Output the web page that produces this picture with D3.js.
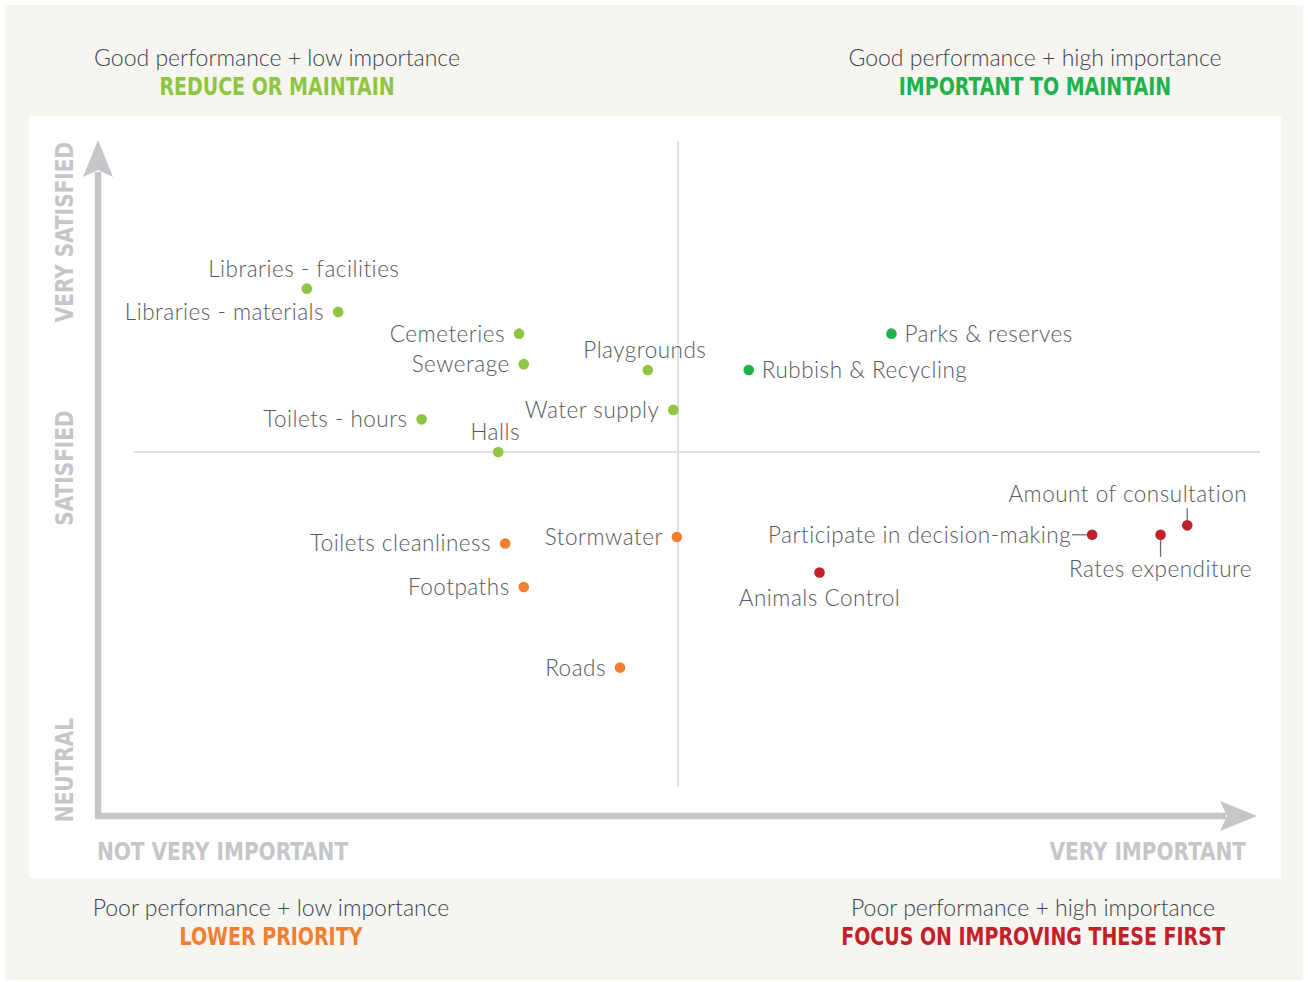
<!DOCTYPE html>
<html>
<head>
<meta charset="utf-8">
<script src="https://cdn.jsdelivr.net/npm/d3@7"></script>
<style>
  html, body { margin: 0; padding: 0; background: #ffffff; }
  svg { display: block; }
</style>
</head>
<body>
<svg id="chart" width="1308" height="982"></svg>
<script>
// Council services: importance to residents vs. satisfaction with performance (0–100 index)
const services = [
  "Libraries - facilities", "Libraries - materials", "Cemeteries", "Sewerage",
  "Playgrounds", "Toilets - hours", "Halls", "Water supply",
  "Parks & reserves", "Rubbish & Recycling",
  "Toilets cleanliness", "Stormwater", "Footpaths", "Roads",
  "Animals Control", "Participate in decision-making", "Rates expenditure", "Amount of consultation"
];
const importance = [
  18.0, 20.7, 36.3, 36.7,
  47.4, 27.9, 34.5, 49.6,
  68.4, 56.1,
  35.1, 49.9, 36.7, 45.0,
  62.2, 85.7, 91.6, 93.9
];
const satisfaction = [
  72.5, 69.3, 66.3, 62.1,
  61.3, 54.5, 50.0, 55.8,
  66.3, 61.3,
  37.4, 38.3, 31.4, 20.3,
  33.4, 38.6, 38.6, 39.9
];
const quadrant = [
  "reduce", "reduce", "reduce", "reduce",
  "reduce", "reduce", "reduce", "reduce",
  "maintain", "maintain",
  "lower", "lower", "lower", "lower",
  "focus", "focus", "focus", "focus"
];
const labelPlacement = [
  "above", "left", "left", "left",
  "above", "left", "above", "left",
  "right", "right",
  "left", "left", "left", "left",
  "below", "left-leader", "below-leader", "above-leader"
];
const midpoints = [50, 50]; // importance, satisfaction dividing lines

const quadrantKeys = ["reduce", "maintain", "lower", "focus"];
const quadrantTitles = [
  "Good performance + low importance", "Good performance + high importance",
  "Poor performance + low importance", "Poor performance + high importance"
];
const quadrantActions = [
  "REDUCE OR MAINTAIN", "IMPORTANT TO MAINTAIN",
  "LOWER PRIORITY", "FOCUS ON IMPROVING THESE FIRST"
];
const satisfactionLevels = ["VERY SATISFIED", "SATISFIED", "NEUTRAL"];
const importanceLevels = ["NOT VERY IMPORTANT", "VERY IMPORTANT"];

// ---- styling ----
const colour = d3.scaleOrdinal()
  .domain(quadrantKeys)
  .range(["#8dc641", "#20b24b", "#f27f2f", "#c2202b"]);
const lightFont = "Lato, 'Open Sans', sans-serif";
const boldFont = "'DejaVu Sans Condensed', 'DejaVu Sans', sans-serif";
const axisGrey = "#c5c6ca";

const svg = d3.select("#chart");

// backgrounds
svg.append("rect").attr("x", 5).attr("y", 5).attr("width", 1298).attr("height", 975).attr("fill", "#f6f5f0");
svg.append("rect").attr("x", 29).attr("y", 116).attr("width", 1252).attr("height", 762).attr("fill", "#ffffff");

// scales
const x = d3.scaleLinear().domain([0, 100]).range([98, 1258]);
const y = d3.scaleLinear().domain([0, 100]).range([815, 89]);

// quadrant dividers
svg.append("line")
  .attr("x1", x(midpoints[0])).attr("x2", x(midpoints[0]))
  .attr("y1", 141).attr("y2", 786)
  .attr("stroke", "#e0e0e0").attr("stroke-width", 2);
svg.append("line")
  .attr("x1", 134).attr("x2", 1260)
  .attr("y1", y(midpoints[1])).attr("y2", y(midpoints[1]))
  .attr("stroke", "#e0e0e0").attr("stroke-width", 2);

// axes with arrowheads
const ax = x(0), ay = y(0) + 1;
svg.append("path")
  .attr("d", `M${ax},${ay + 3} V172 M${ax - 3},${ay} H1226`)
  .attr("stroke", axisGrey).attr("stroke-width", 6.5).attr("fill", "none");
svg.append("path")
  .attr("d", `M${ax},140 L${ax + 15},177 L${ax},170 L${ax - 15},177 Z`)
  .attr("fill", axisGrey);
svg.append("path")
  .attr("d", `M1257,${ay} L1220,${ay - 15} L1227,${ay} L1220,${ay + 15} Z`)
  .attr("fill", axisGrey);

// axis level labels (condensed bold caps)
const yLabelPos = [232, 468, 770];
svg.selectAll("text.ylevel")
  .data(satisfactionLevels)
  .join("text")
  .attr("class", "ylevel")
  .attr("transform", (d, i) => `translate(73,${yLabelPos[i]}) rotate(-90) scale(0.93,1)`)
  .attr("text-anchor", "middle")
  .attr("font-family", boldFont).attr("font-weight", 700).attr("font-size", 24)
  .attr("fill", axisGrey)
  .text(d => d);

svg.selectAll("text.xlevel")
  .data(importanceLevels)
  .join("text")
  .attr("class", "xlevel")
  .attr("transform", (d, i) => `translate(${i === 0 ? 97 : 1246},860) scale(0.93,1)`)
  .attr("text-anchor", (d, i) => i === 0 ? "start" : "end")
  .attr("font-family", boldFont).attr("font-weight", 700).attr("font-size", 24)
  .attr("fill", axisGrey)
  .text(d => d);

// quadrant headings
const headingCentre = [[277, 66], [1035, 66], [271, 916], [1033, 916]];
const heads = svg.selectAll("g.head")
  .data(quadrantKeys)
  .join("g")
  .attr("class", "head")
  .attr("transform", (d, i) => `translate(${headingCentre[i][0]},${headingCentre[i][1]})`);
heads.append("text")
  .attr("text-anchor", "middle")
  .attr("font-family", lightFont).attr("font-weight", 300).attr("font-size", 23)
  .attr("fill", "#3c4250")
  .text((d, i) => quadrantTitles[i]);
heads.append("text")
  .attr("transform", "translate(0,29) scale(0.88,1)")
  .attr("text-anchor", "middle")
  .attr("font-family", boldFont).attr("font-weight", 700).attr("font-size", 24)
  .attr("fill", d => colour(d))
  .text((d, i) => quadrantActions[i]);

// points
const points = services.map((name, i) => ({
  name, imp: importance[i], sat: satisfaction[i], q: quadrant[i], place: labelPlacement[i]
}));

const pg = svg.selectAll("g.pt")
  .data(points)
  .join("g")
  .attr("class", "pt")
  .attr("transform", d => `translate(${x(d.imp)},${y(d.sat)})`);

// leader lines
pg.filter(d => d.place.endsWith("leader"))
  .append("line")
  .attr("x1", d => d.place === "left-leader" ? -20 : 0)
  .attr("x2", d => d.place === "left-leader" ? -5 : 0)
  .attr("y1", d => d.place === "above-leader" ? -17 : d.place === "below-leader" ? 5 : 0)
  .attr("y2", d => d.place === "above-leader" ? -5 : d.place === "below-leader" ? 22 : 0)
  .attr("stroke", "#6d6e71").attr("stroke-width", 1.3);

pg.append("circle")
  .attr("r", 5.3)
  .attr("fill", d => colour(d.q));

const labelLayout = {
  "left":         { anchor: "end",    dx: -14, dy: 8 },
  "right":        { anchor: "start",  dx: 13,  dy: 8 },
  "above":        { anchor: "middle", dx: -3,  dy: -12 },
  "below":        { anchor: "middle", dx: 0,   dy: 33 },
  "left-leader":  { anchor: "end",    dx: -21, dy: 8 },
  "above-leader": { anchor: "end",    dx: 60,  dy: -23 },
  "below-leader": { anchor: "middle", dx: 0,   dy: 42 }
};

pg.append("text")
  .attr("x", d => labelLayout[d.place].dx)
  .attr("y", d => labelLayout[d.place].dy)
  .attr("text-anchor", d => labelLayout[d.place].anchor)
  .attr("font-family", lightFont).attr("font-weight", 300).attr("font-size", 22.5)
  .attr("letter-spacing", 0.5)
  .attr("fill", "#58595b")
  .text(d => d.name);
</script>
</body>
</html>
